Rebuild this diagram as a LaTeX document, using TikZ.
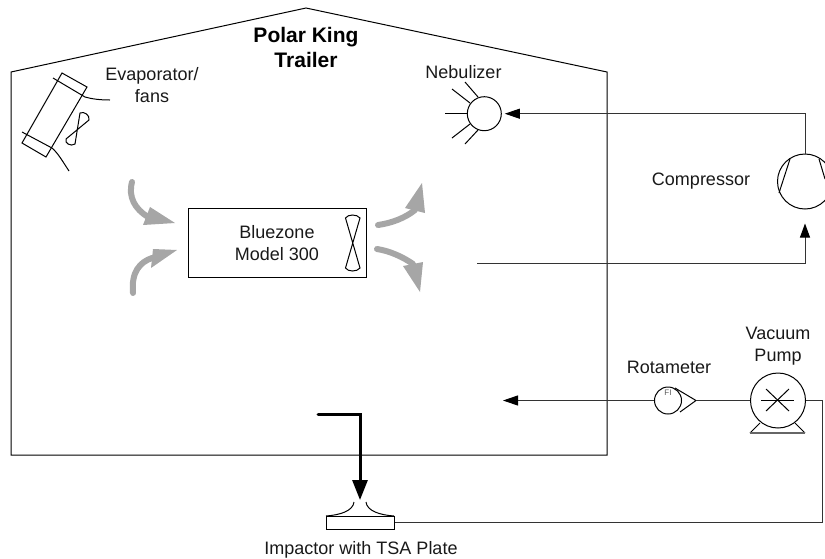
\documentclass[tikz,border=0pt]{standalone}
\usepackage{fontspec}
\setmainfont{Liberation Sans}
\usetikzlibrary{arrows.meta}
\definecolor{airgray}{gray}{0.65}
\tikzset{
  x=1pt,y=-1pt,
  lab/.style={align=center,inner sep=0pt,font=\fontsize{18}{21.5}\selectfont,text=black!90},
  pipe/.style={draw=black!80,line width=1pt},
  sym/.style={draw=black,line width=1pt},
  shaft/.style={draw=airgray,line width=6pt,line cap=round},
  airhead/.style={fill=airgray,draw=none},
  blob/.style={circle,draw=black,line width=1pt,fill=white,inner sep=0pt},
}
\begin{document}
\begin{tikzpicture}
\useasboundingbox (0,0) rectangle (825,558);
% trailer
\draw[sym,line join=miter] (11,72) -- (306,8) -- (607,72) -- (607,455) -- (11,455) -- cycle;
% labels
\node[lab,font=\fontsize{21}{25}\selectfont\bfseries,text=black] (trailer) at (306,47.5) {Polar King\\Trailer};
\node[lab] (evaplab) at (152,85) {Evaporator/\\fans};
\node[lab] (neblab) at (463.5,72) {Nebulizer};
\node[lab] (complab) at (701,181.5) {Compressor};
\node[lab] (rotlab) at (669,367) {Rotameter};
\node[lab] (vaclab) at (778,346) {Vacuum\\Pump};
\node[lab] (implab) at (361,550) {Impactor with TSA Plate};
% evaporator
\begin{scope}[line join=miter]
\draw[sym] (62,73) -- (87,87) -- (46,157) -- (22,143) -- cycle;
\draw[sym] (53,78) -- (85,97) .. controls (92,99) and (100,100) .. (110,100);
\draw[sym] (22,132) -- (52,148) .. controls (58,153) and (63,162) .. (69,171);
\draw[sym] (80,113) .. controls (84,111) and (90,115) .. (89,120) -- (66,139) .. controls (64,143) and (71,147) .. (75,144) -- cycle;
\end{scope}
% Bluezone
\node[draw=black,line width=1pt,minimum width=178pt,minimum height=69pt,inner sep=0pt] (bz) at (277,242.5) {};
\node[lab] (bzlab) at (277,243) {Bluezone\\Model 300};
\draw[sym] (345.5,218) .. controls (348,214) and (357,214) .. (360,218) -- (345.5,268) .. controls (348,272) and (357,272) .. (360,268) -- cycle;
% air arrows
\draw[shaft] (132,182) .. controls (128,197) and (135,209) .. (148,217);
\fill[airhead] (175,223) -- (150,207) -- (143,225) -- cycle;
\draw[shaft] (133,293) .. controls (131,272) and (140,262) .. (152,258);
\fill[airhead] (177,250) -- (153,249) -- (151,268) -- cycle;
\draw[shaft] (378,225) .. controls (392,223) and (405,218) .. (415,210);
\fill[airhead] (422,183) -- (405,208) -- (425,213) -- cycle;
\draw[shaft] (377,249) .. controls (390,251) and (403,257) .. (413,264);
\fill[airhead] (420,292) -- (403,266) -- (423,262) -- cycle;
% nebulizer
\node[blob,minimum size=34pt] (neb) at (484.3,113.7) {};
\coordinate (n1) at (445,113.7); \coordinate (n2) at (452,89); \coordinate (n3) at (465,82);
\coordinate (n4) at (452,138); \coordinate (n5) at (465,144);
\draw[sym] (n1) -- (neb.180);
\draw[sym] (n2) -- (470,103);
\draw[sym] (n3) -- (478,97);
\draw[sym] (n4) -- (470,124);
\draw[sym] (n5) -- (478,130);
% compressor
\node[blob,minimum size=55pt] (comp) at (805,181.5) {};
\draw[sym] (790,159) -- (779,193);
\draw[sym] (819,159) -- (825,179);
\coordinate (c1) at (477,263);
\coordinate (c2) at (805,263);
\coordinate (c3) at (805,113.7);
\draw[pipe,-{Triangle[length=14pt,width=10pt,color=black]},shorten >=14pt] (c1) -- (c2) -- (comp.south);
\draw[pipe,-{Triangle[length=15pt,width=10pt,color=black]},shorten >=3pt] (comp.north) -- (c3) -- (neb.east);
% vacuum pump
\draw[sym] (750,433) -- (760,423);
\draw[sym] (805,433) -- (795,423);
\draw[draw=black!60,line width=1.5pt] (750,433) -- (805,433);
\node[blob,minimum size=55pt] (pump) at (778,400.5) {};
\draw[sym] (766,389) -- (789,411);
\draw[sym] (789,389) -- (766,411);
\draw[sym] (761,400.5) -- (794,400.5);
% rotameter
\coordinate (r1) at (696,400.5);
\draw[sym] (675,388) -- (r1) -- (680,412);
\node[blob,minimum size=27pt] (rot) at (668,400.5) {};
\node[font=\fontsize{8}{9}\selectfont,text=black!65,inner sep=0pt] (fi) at (668,392.5) {FI};
\coordinate (leftend) at (503,400.5);
\draw[pipe,-{Triangle[length=15pt,width=10pt,color=black]}] (rot.west) -- (leftend);
\draw[pipe] (r1) -- (pump.west);
% impactor
\node[draw=black,line width=1pt,minimum width=68pt,minimum height=13pt,inner sep=0pt] (imp) at (360,522.5) {};
\draw[sym] (354,502) .. controls (353,511) and (340,515) .. (326,516);
\draw[sym] (366,502) .. controls (367,511) and (380,515) .. (394,516);
\coordinate (j1) at (318,414); \coordinate (j2) at (360,414); \coordinate (j3) at (360,500);
\draw[line width=3pt,line cap=round,-{Triangle[length=20pt,width=15pt]}] (j1) -- (j2) -- (j3);
\coordinate (o2) at (822,400.5); \coordinate (o3) at (822,522.5);
\draw[pipe] (pump.east) -- (o2) -- (o3) -- (imp.east);
\end{tikzpicture}
\end{document}
